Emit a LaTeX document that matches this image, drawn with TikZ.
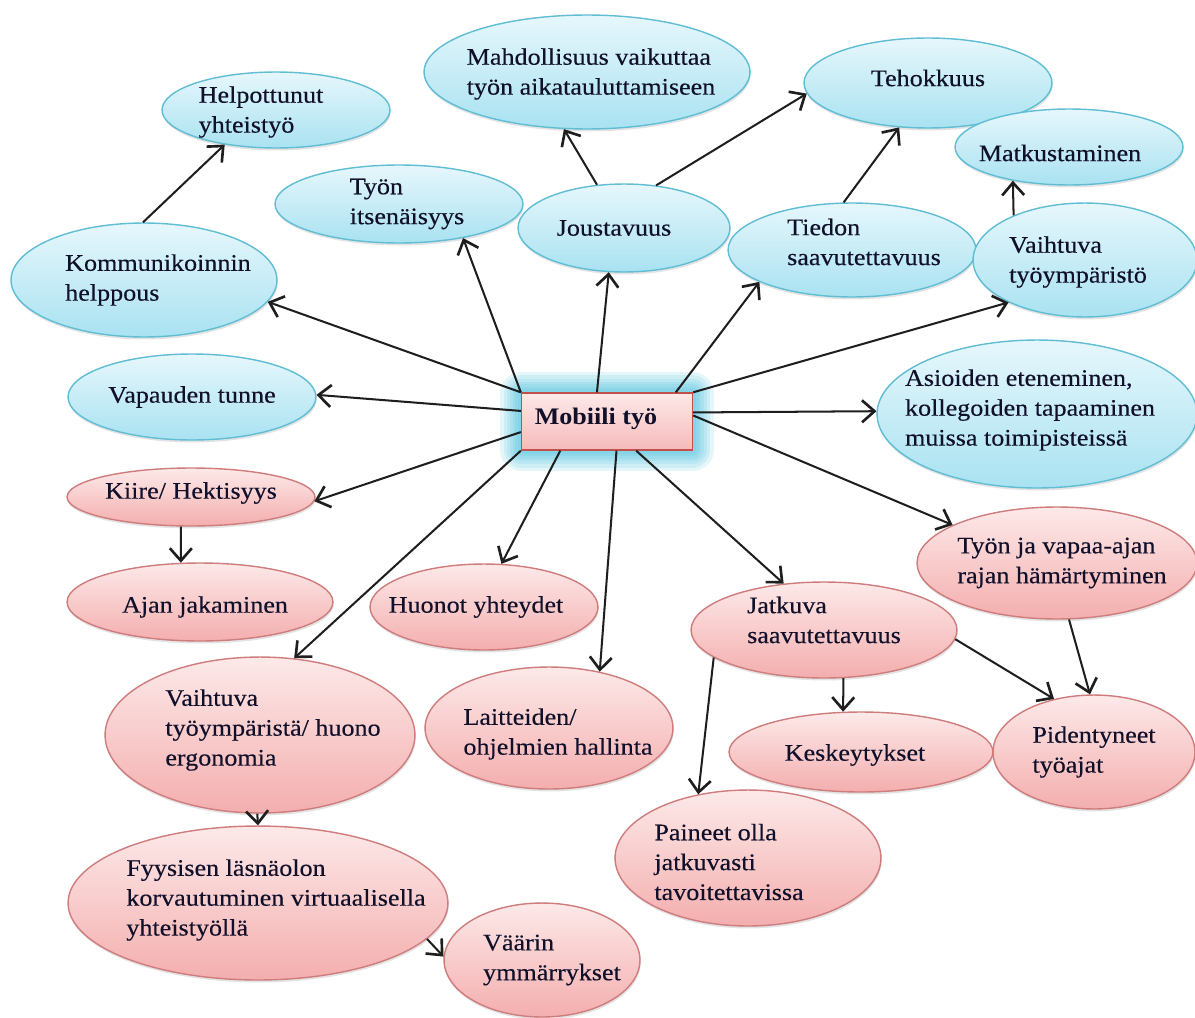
\documentclass[tikz,border=0pt]{standalone}
\usepackage{fontspec}
\setmainfont{Liberation Serif}[FakeStretch=1.1, UprightFeatures={FakeBold=0.3}]
\usetikzlibrary{shapes.geometric,arrows.meta,shadows}
\definecolor{bluetop}{HTML}{E6F7FC}
\definecolor{bluebot}{HTML}{A9E2F1}
\definecolor{bluebd}{HTML}{5FBDD4}
\definecolor{pinktop}{HTML}{FDE9E9}
\definecolor{pinkbot}{HTML}{F4AEAE}
\definecolor{pinkbd}{HTML}{CF7C7C}
\definecolor{mobbd}{HTML}{C0504D}
\definecolor{glowc}{HTML}{4FC4DE}
\definecolor{txtc}{HTML}{10102A}
\definecolor{arrc}{HTML}{1E1E1E}
\newcommand\nsz{\fontsize{13.5}{17}\selectfont}
\tikzset{
  ell/.style 2 args={ellipse, minimum width=#1*0.04cm, minimum height=#2*0.04cm,
    inner sep=0pt, line width=0.8pt,
    drop shadow={opacity=0.22, shadow xshift=0.4pt, shadow yshift=-1.4pt}},
  bluenode/.style={draw=bluebd, top color=bluetop, bottom color=bluebot},
  pinknode/.style={draw=pinkbd, top color=pinktop, bottom color=pinkbot},
  txt/.style={align=left, font=\nsz, text=txtc, inner sep=0pt},
  arr/.style={draw=arrc, line width=1.15pt, -{Straight Barb[length=2.5mm,width=4.4mm,line width=1.5pt]}},
  glowlayer/.style={preaction={draw=glowc, draw opacity=0.15, line width=#1, line join=round}},
}
\begin{document}
\begin{tikzpicture}[x=0.02cm,y=-0.02cm]
\fill[white] (0,0) rectangle (1195,1017);
\useasboundingbox (0,0) rectangle (1195,1017);

% blue nodes
\node[ell={114}{38}, bluenode, label={[txt,xshift=-0.3cm,yshift=-0.04cm]center:Helpottunut\\yhteistyö}] (hel) at (276,110) {};
\node[ell={163}{57}, bluenode, label={[txt,xshift=0.08cm,yshift=-0.04cm]center:Mahdollisuus vaikuttaa\\työn aikatauluttamiseen}] (mah) at (587,72) {};
\node[ell={124}{45}, bluenode, label={[txt,yshift=0.1cm]center:Tehokkuus}] (teh) at (928,83) {};
\node[ell={114}{38}, bluenode, label={[txt,xshift=-0.18cm,yshift=-0.12cm]center:Matkustaminen}] (mat) at (1069,147) {};
\node[ell={124}{39}, bluenode, label={[txt,xshift=0.16cm]center:Työn\\itsenäisyys}] (its) at (399,204) {};
\node[ell={106}{44}, bluenode, label={[txt,xshift=-0.2cm]center:Joustavuus}] (jou) at (624,228) {};
\node[ell={124}{47}, bluenode, label={[txt,xshift=0.24cm,yshift=0.16cm]center:Tiedon\\saavutettavuus}] (tie) at (852,250) {};
\node[ell={112}{57}, bluenode, label={[txt,xshift=-0.14cm,yshift=-0.04cm]center:Vaihtuva\\työympäristö}] (vai) at (1085,260) {};
\node[ell={133}{57}, bluenode, label={[txt,xshift=0.28cm]center:Kommunikoinnin\\helppous}] (kom) at (144,280) {};
\node[ell={124}{43}, bluenode, label={[txt]center:Vapauden tunne}] (vap) at (192,397) {};
\node[ell={160}{74}, bluenode, label={[txt,xshift=-0.14cm,yshift=0.08cm]center:{Asioiden eteneminen,\\kollegoiden tapaaminen\\muissa toimipisteissä}}] (asi) at (1037,414) {};

% central node
\node[rectangle, minimum width=3.42cm, minimum height=1.14cm, inner sep=0pt,
  draw=mobbd, line width=0.8pt, top color=pinktop, bottom color=pinkbot!85!white,
  glowlayer=24pt, glowlayer=20pt, glowlayer=16pt, glowlayer=13pt,
  glowlayer=10pt, glowlayer=7pt, glowlayer=4pt,
  label={[txt,font=\nsz\bfseries,xshift=-0.22cm,yshift=0.06cm]center:Mobiili työ}] (mob) at (607,421.5) {};

% pink nodes
\node[ell={124}{29}, pinknode, label={[txt,yshift=0.08cm]center:Kiire/ Hektisyys}] (kii) at (191,497) {};
\node[ell={133}{39}, pinknode, label={[txt,xshift=0.1cm,yshift=-0.1cm]center:Ajan jakaminen}] (aja) at (200,602) {};
\node[ell={114}{43}, pinknode, label={[txt,xshift=-0.16cm]center:Huonot yhteydet}] (huo) at (484,607) {};
\node[ell={155}{78}, pinknode, label={[txt,xshift=0.26cm,yshift=0.1cm]center:Vaihtuva\\työympäristä/ huono\\ergonomia}] (erg) at (260,735) {};
\node[ell={124}{61}, pinknode, label={[txt,xshift=0.18cm,yshift=-0.12cm]center:Laitteiden/\\ohjelmien hallinta}] (lai) at (549,728) {};
\node[ell={133}{48}, pinknode, label={[txt,yshift=0.2cm]center:Jatkuva\\saavutettavuus}] (jat) at (824,630) {};
\node[ell={140}{56}, pinknode, label={[txt,xshift=0.1cm]center:Työn ja vapaa-ajan\\rajan hämärtyminen}] (raj) at (1057,563) {};
\node[ell={132}{40}, pinknode, label={[txt,xshift=-0.12cm,yshift=-0.06cm]center:Keskeytykset}] (kes) at (861,752) {};
\node[ell={101}{57}, pinknode, label={[txt]center:Pidentyneet\\työajat}] (pid) at (1094,752) {};
\node[ell={133}{68}, pinknode, label={[txt,xshift=-0.38cm,yshift=-0.08cm]center:Paineet olla\\jatkuvasti\\tavoitettavissa}] (pai) at (748,858) {};
\node[ell={190}{77}, pinknode, label={[txt,xshift=0.36cm,yshift=0.06cm]center:Fyysisen läsnäolon\\korvautuminen virtuaalisella\\yhteistyöllä}] (fyy) at (258,903) {};
\node[ell={98}{57}, pinknode, label={[txt,xshift=0.2cm]center:Väärin\\ymmärrykset}] (vaa) at (542,960) {};

% connectors from the centre
\draw[arr] (mob.north west) -- (kom.-10.9);
\draw[arr] (mob.north west) -- (its.-28);
\draw[arr] (mob.109.3) -- (jou.-109.4);
\draw[arr] (mob.23.4) -- (tie.-161.6);
\draw[arr] (mob.north east) -- (vai.-151.7);
\draw[arr] (mob.6.4) -- (asi.179.3);
\draw[arr] (mob.4.4) -- (raj.160.1);
\draw[arr] (mob.-45.5) -- (jat.131.3);
\draw[arr] (mob.-72.5) -- (lai.48.3);
\draw[arr] (mob.-148.8) -- (huo.68);
\draw[arr] (mob.south west) -- (erg.66.9);
\draw[arr] (mob.187) -- (kii.-2.8);
\draw[arr] (mob.173.6) -- (vap.1.8);

% other connectors
\draw[arr] (kom.91) -- (hel.-146.8);
\draw[arr] (jou.122.4) -- (mah.-112.6);
\draw[arr] (jou.53.6) -- (teh.-175.4);
\draw[arr] (tie.100.8) -- (teh.-123.4);
\draw[arr] (vai.148.7) -- (mat.-149.4);
\draw[arr] (jat.-68.2) -- (kes.114.4);
\draw[arr] (jat.-166.2) -- (pai.128.2);
\draw[arr] (jat.-4.3) -- (pid.127.7);
\draw[arr] (raj.-78.1) -- (pid.94);
\draw[arr] (kii.-109.1) -- (aja.116.2);
\draw[arr] (erg.-92.2) -- (fyy.90.7);
\draw[arr] (fyy.-12.3) -- (vaa.178.8);
\end{tikzpicture}
\end{document}
